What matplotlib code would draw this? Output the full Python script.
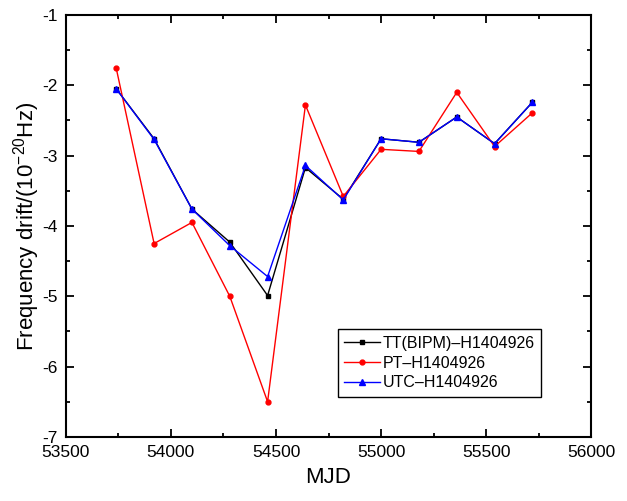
import matplotlib
matplotlib.use("Agg")
import matplotlib.pyplot as plt
from matplotlib.ticker import MultipleLocator

plt.rcParams['font.family'] = ['Liberation Sans', 'DejaVu Sans']
plt.rcParams['mathtext.fontset'] = 'custom'
plt.rcParams['mathtext.rm'] = 'Liberation Sans'
plt.rcParams['axes.unicode_minus'] = False

# MJD epochs (half-year steps)
mjd = [53740, 53920, 54100, 54280, 54460, 54640, 54820, 55000, 55180, 55360, 55540, 55720]

# frequency drift in 1e-20 Hz
tt_bipm = [-2.05, -2.76, -3.76, -4.23, -4.99, -3.17, -3.62, -2.76, -2.81, -2.45, -2.83, -2.24]
pt = [-1.76, -4.25, -3.95, -5.00, -6.50, -2.28, -3.58, -2.91, -2.94, -2.10, -2.87, -2.39]
utc = [-2.05, -2.77, -3.76, -4.28, -4.72, -3.14, -3.63, -2.76, -2.81, -2.45, -2.83, -2.24]

labels = ['TT(BIPM)\u2013H1404926', 'PT\u2013H1404926', 'UTC\u2013H1404926']

fig = plt.figure(figsize=(6.27, 5.01), dpi=100)
ax = fig.add_axes([0.105, 0.128, 0.838, 0.842])

ax.plot(mjd, tt_bipm, color='black', marker='s', markersize=2.8, linewidth=1, label=labels[0])
ax.plot(mjd, pt, color='red', marker='o', markersize=3.5, linewidth=1, label=labels[1])
ax.plot(mjd, utc, color='blue', marker='^', markersize=4, linewidth=1, label=labels[2])

ax.set_xlim(53500, 56000)
ax.set_ylim(-7, -1)
ax.xaxis.set_major_locator(MultipleLocator(500))
ax.xaxis.set_minor_locator(MultipleLocator(250))
ax.yaxis.set_major_locator(MultipleLocator(1))
ax.yaxis.set_minor_locator(MultipleLocator(0.5))
ax.tick_params(which='both', direction='in', top=True, right=True, width=1.3)
ax.tick_params(which='major', length=5.5, labelsize=12.5)
ax.tick_params(axis='x', which='major', pad=6)
ax.tick_params(axis='y', which='major', pad=6)
ax.tick_params(which='minor', length=3)
for s in ax.spines.values():
    s.set_linewidth(1.5)

ax.set_xlabel('MJD', fontsize=16, labelpad=5)
ax.set_ylabel(r'Frequency drift/(10$^{\mathregular{-20}}$Hz)', fontsize=16, labelpad=0)

leg = ax.legend(loc='lower right', bbox_to_anchor=(0.905, 0.095), fontsize=11.5,
                frameon=True, fancybox=False, edgecolor='black', framealpha=1,
                handlelength=2.2, borderpad=0.4, labelspacing=0.3, handletextpad=0.2,
                borderaxespad=0.0)
leg.get_frame().set_linewidth(1)

fig.savefig('out.png', dpi=100)
